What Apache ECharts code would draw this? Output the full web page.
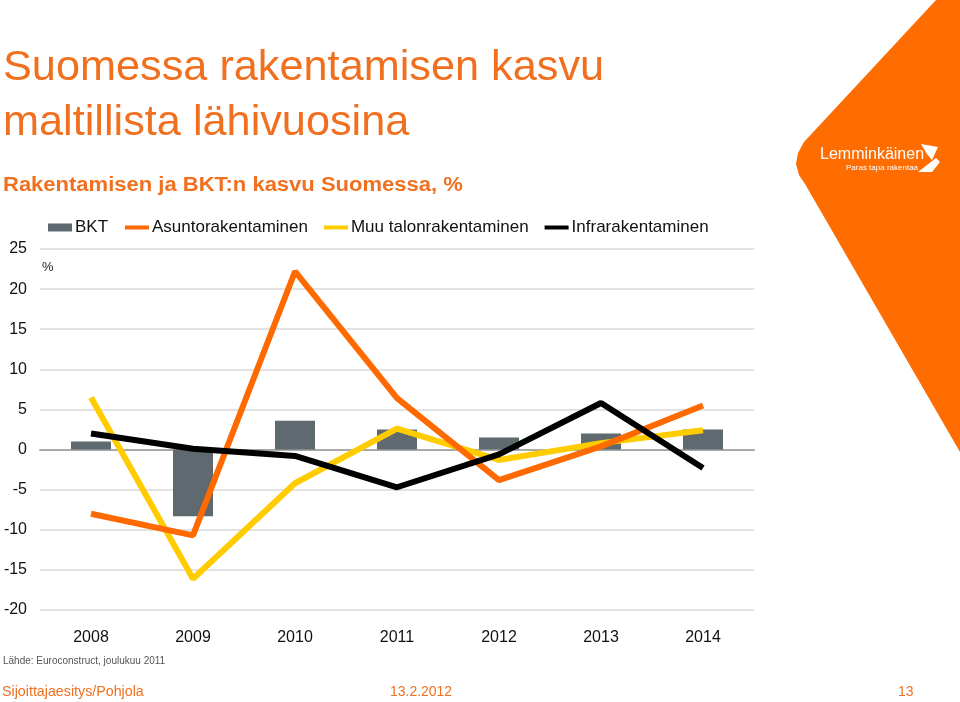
<!DOCTYPE html>
<html><head><meta charset="utf-8">
<script src="https://cdn.jsdelivr.net/npm/echarts@6/dist/echarts.min.js"></script>
<style>html,body{margin:0;padding:0;background:#fff}#c{width:960px;height:702px}</style>
</head><body><div id="c"></div>
<script>
const categories = ['2008','2009','2010','2011','2012','2013','2014'];
const bkt = [1.0, -8.3, 3.6, 2.5, 1.5, 2.0, 2.5];
const asunto = [-8.0, -10.7, 22.2, 6.4, -3.8, 0.4, 5.5];
const muu = [6.5, -16.1, -4.2, 2.6, -1.3, 0.8, 2.4];
const infra = [2.0, 0.1, -0.8, -4.7, -0.6, 5.8, -2.3];
const seriesNames = ['BKT','Asuntorakentaminen','Muu talonrakentaminen','Infrarakentaminen'];

const ORANGE = '#F07020';
const FONT = '"Liberation Sans", Arial, sans-serif';
const legendText = {fontSize: 17, color: '#111', fontFamily: FONT, padding: [0, 0, 0, -2]};
const chart = echarts.init(document.getElementById('c'));
chart.setOption({
  animation: false,
  textStyle: {fontFamily: FONT},
  grid: {left: 40, right: 206, top: 249, bottom: 92},
  legend: [
    {left: 43, top: 214, itemWidth: 24, itemHeight: 8, itemGap: 13, icon: 'rect',
     textStyle: legendText, data: [seriesNames[0]]},
    {left: 120, top: 214, itemWidth: 24, itemHeight: 4, itemGap: 16, icon: 'rect',
     textStyle: legendText, data: seriesNames.slice(1)}
  ],
  xAxis: {
    type: 'category', data: categories,
    axisLine: {onZero: true, lineStyle: {color: '#a9a9a9', width: 2}},
    axisTick: {show: false},
    axisLabel: {margin: 20, fontSize: 16, color: '#111', fontFamily: FONT, interval: 0}
  },
  yAxis: {
    type: 'value', min: -20, max: 25, interval: 5,
    axisLine: {show: false}, axisTick: {show: false},
    axisLabel: {margin: 13, fontSize: 16, color: '#111', fontFamily: FONT},
    splitLine: {lineStyle: {color: '#d9d9d9', width: 1.5}}
  },
  series: [
    {name: seriesNames[0], type: 'bar', data: bkt, barWidth: 40, itemStyle: {color: '#5E6970'}, z: 1},
    {name: seriesNames[1], type: 'line', data: asunto, symbol: 'none', lineStyle: {color: '#FF6A00', width: 6}, itemStyle: {color: '#FF6A00'}, z: 3},
    {name: seriesNames[2], type: 'line', data: muu, symbol: 'none', lineStyle: {color: '#FFCC00', width: 6}, itemStyle: {color: '#FFCC00'}, z: 2},
    {name: seriesNames[3], type: 'line', data: infra, symbol: 'none', lineStyle: {color: '#000000', width: 6}, itemStyle: {color: '#000000'}, z: 4}
  ],
  graphic: [
    {type: 'polygon', z: -1, shape: {points: [[936,0],[960,0],[960,452],[805,184],[799,175],[796,164],[798,153],[804,142]]}, style: {fill: '#FF6C00'}},
    {type: 'text', x: 3, y: 47, scaleX: 1.03, style: {text: 'Suomessa rakentamisen kasvu', font: '42px ' + FONT, fill: ORANGE}},
    {type: 'text', x: 3, y: 102, scaleX: 1.03, style: {text: 'maltillista lähivuosina', font: '42px ' + FONT, fill: ORANGE}},
    {type: 'text', x: 3, y: 175, scaleX: 1.1, style: {text: 'Rakentamisen ja BKT:n kasvu Suomessa, %', font: 'bold 20px ' + FONT, fill: ORANGE}},
    {type: 'text', x: 42, y: 261, style: {text: '%', font: '13px ' + FONT, fill: '#222'}},
    {type: 'text', x: 820, y: 147, style: {text: 'Lemminkäinen', font: '16px ' + FONT, fill: '#fff'}},
    {type: 'text', x: 846, y: 164, style: {text: 'Paras tapa rakentaa', font: '8px ' + FONT, fill: '#fff'}},
    {type: 'polygon', shape: {points: [[921,144],[938,147],[932,160],[927,154]]}, style: {fill: '#fff'}},
    {type: 'polygon', shape: {points: [[936,158],[940,162],[932,172],[918,172]]}, style: {fill: '#fff'}},
    {type: 'text', x: 3, y: 656, style: {text: 'Lähde: Euroconstruct, joulukuu 2011', font: '10px ' + FONT, fill: '#555'}},
    {type: 'text', x: 2, y: 684, scaleX: 0.95, style: {text: 'Sijoittajaesitys/Pohjola', font: '15px ' + FONT, fill: ORANGE}},
    {type: 'text', x: 390, y: 684, scaleX: 0.93, style: {text: '13.2.2012', font: '15px ' + FONT, fill: ORANGE}},
    {type: 'text', x: 898, y: 684, scaleX: 0.93, style: {text: '13', font: '15px ' + FONT, fill: ORANGE}}
  ]
});
</script></body></html>
